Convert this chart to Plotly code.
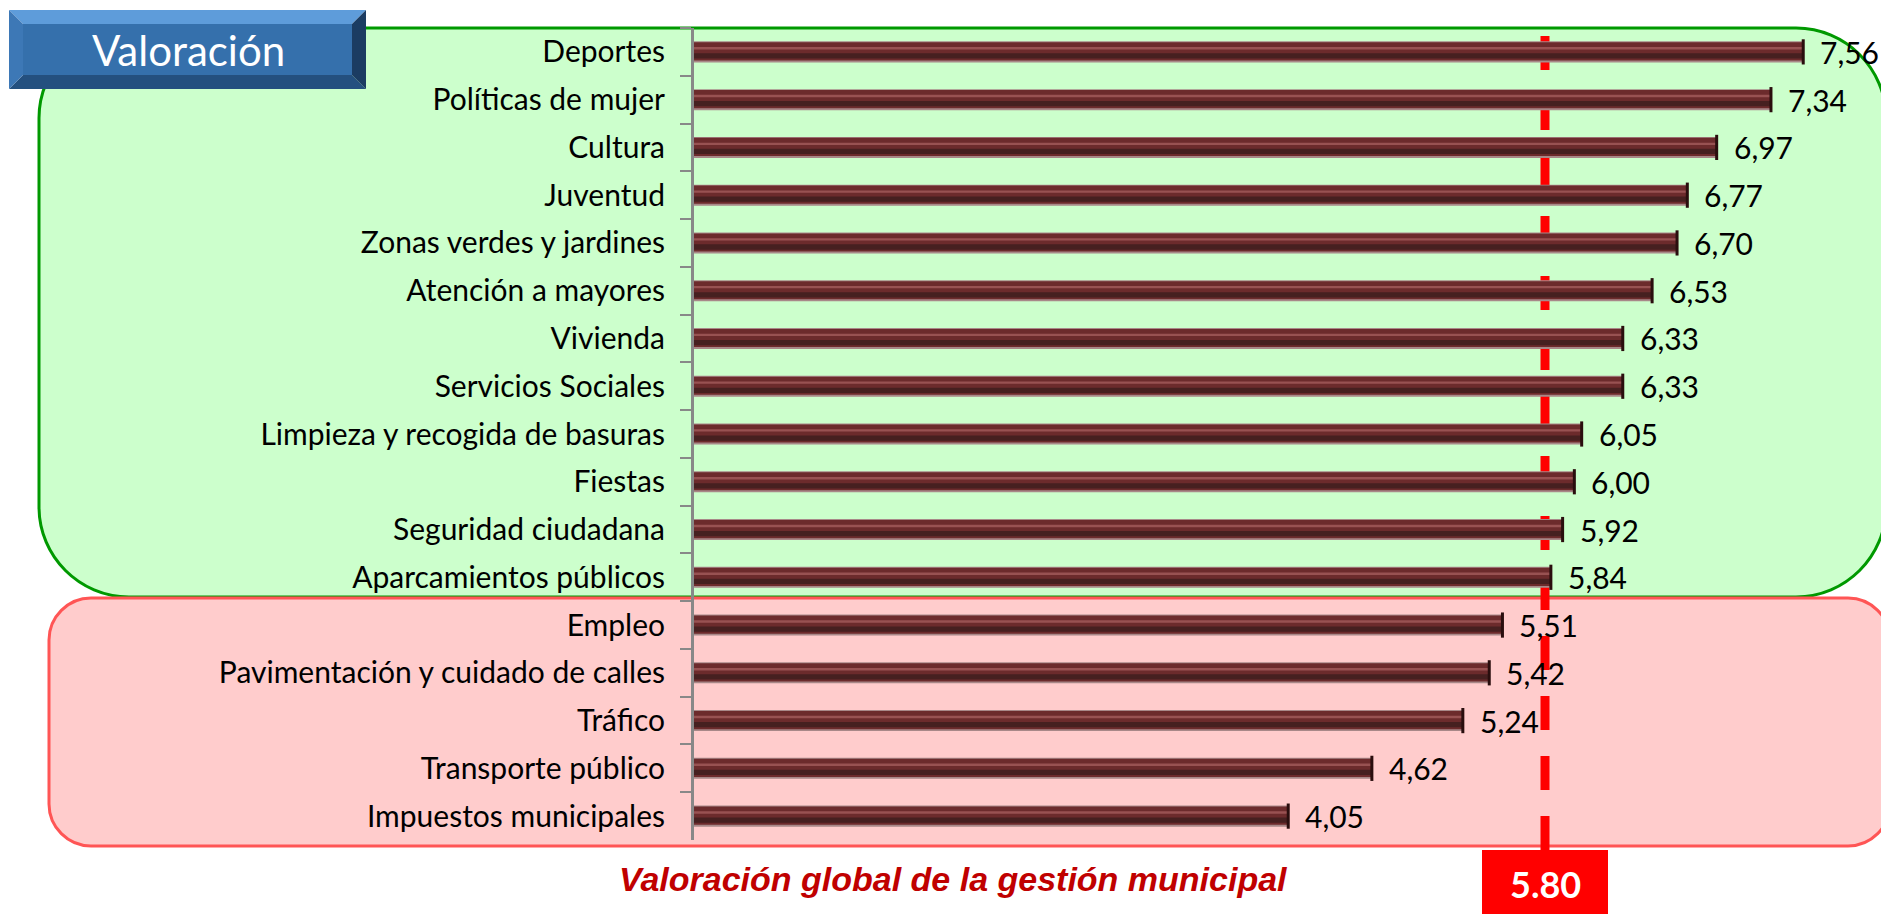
import plotly.graph_objects as go

categories = [
    "Deportes", "Políticas de mujer", "Cultura", "Juventud",
    "Zonas verdes y jardines", "Atención a mayores", "Vivienda",
    "Servicios Sociales", "Limpieza y recogida de basuras", "Fiestas",
    "Seguridad ciudadana", "Aparcamientos públicos", "Empleo",
    "Pavimentación y cuidado de calles", "Tráfico", "Transporte público",
    "Impuestos municipales",
]
values = [7.56, 7.34, 6.97, 6.77, 6.70, 6.53, 6.33, 6.33, 6.05, 6.00,
          5.92, 5.84, 5.51, 5.42, 5.24, 4.62, 4.05]
value_labels = [f"{v:.2f}".replace(".", ",") for v in values]
global_value = 5.80
global_label = "5.80"
title_text = "Valoración"
footer_text = "Valoración global de la gestión municipal"

W, H = 1881, 914
ML, MR, MT, MB = 694, 0, 28, 74
PW = W - ML - MR
PH = H - MT - MB
XMAX = 8.09


def px(x):
    return (x - ML) / PW


def py(y):
    return (H - MB - y) / PH


def rounded_rect(x0, y0, x1, y1, r):
    k = 0.45
    pts = [
        f"M{px(x0 + r)},{py(y0)}",
        f"L{px(x1 - r)},{py(y0)}",
        f"C{px(x1 - r * k)},{py(y0)} {px(x1)},{py(y0 + r * k)} {px(x1)},{py(y0 + r)}",
        f"L{px(x1)},{py(y1 - r)}",
        f"C{px(x1)},{py(y1 - r * k)} {px(x1 - r * k)},{py(y1)} {px(x1 - r)},{py(y1)}",
        f"L{px(x0 + r)},{py(y1)}",
        f"C{px(x0 + r * k)},{py(y1)} {px(x0)},{py(y1 - r * k)} {px(x0)},{py(y1 - r)}",
        f"L{px(x0)},{py(y0 + r)}",
        f"C{px(x0)},{py(y0 + r * k)} {px(x0 + r * k)},{py(y0)} {px(x0 + r)},{py(y0)}",
        "Z",
    ]
    return " ".join(pts)


def poly(points):
    return "M" + " L".join(f"{px(a)},{py(b)}" for a, b in points) + " Z"


fig = go.Figure()

# layered bars for a bevelled look
layers = [
    (-0.22, 0.44, "#A88888"),
    (-0.20, 0.38, "#6C2B2C"),
    (-0.10, 0.05, "#985252"),
    (0.03, 0.11, "#462020"),
]
for off, wid, col in layers:
    fig.add_trace(go.Bar(
        y=categories, x=values, orientation="h",
        offset=off, width=wid,
        marker=dict(color=col, line=dict(width=0)),
        hoverinfo="skip", showlegend=False,
    ))

# dark end caps
fig.add_trace(go.Scatter(
    y=categories, x=values, mode="markers",
    marker=dict(symbol="line-ns", size=18, line=dict(color="#2A0E0E", width=3)),
    hoverinfo="skip", showlegend=False, cliponaxis=False,
))

annotations = []
for c, v, t in zip(categories, values, value_labels):
    annotations.append(dict(
        x=v, y=c, xref="x", yref="y", text=t, showarrow=False,
        xanchor="left", yanchor="middle", xshift=15,
        font=dict(family="Lato", size=30, color="#000000"),
    ))

# title box text
annotations.append(dict(
    x=px(188), y=py(50), xref="paper", yref="paper", text=title_text,
    showarrow=False, xanchor="center", yanchor="middle",
    font=dict(family="Lato", size=42, color="#FFFFFF"),
))
# footer
annotations.append(dict(
    x=px(953), y=py(879), xref="paper", yref="paper",
    text=f"<b><i>{footer_text}</i></b>", showarrow=False,
    xanchor="center", yanchor="middle",
    font=dict(family="Liberation Sans", size=34, color="#C00000"),
))
# global value box text
annotations.append(dict(
    x=global_value, y=py(884), xref="x", yref="paper",
    text=f"<b>{global_label}</b>", showarrow=False,
    xanchor="center", yanchor="middle",
    font=dict(family="Lato", size=36, color="#FFFFFF"),
))

shapes = [
    dict(type="path", xref="paper", yref="paper", layer="below",
         path=rounded_rect(39, 28, 1886, 597, 90),
         fillcolor="#CCFFCC", line=dict(color="#009900", width=3)),
    dict(type="path", xref="paper", yref="paper", layer="below",
         path=rounded_rect(49, 598, 1890, 846, 42),
         fillcolor="#FFCCCC", line=dict(color="#FF5555", width=3)),
    dict(type="line", xref="x", yref="paper", layer="below",
         x0=global_value, x1=global_value, y0=py(850), y1=py(29),
         line=dict(color="#FF0000", width=9, dash="34px,26px")),
]

# global value box
box_half = 63
scale = PW / XMAX
shapes.append(dict(type="rect", xref="paper", yref="paper", layer="above",
                   x0=px(ML + global_value * scale - box_half),
                   x1=px(ML + global_value * scale + box_half),
                   y0=py(850), y1=py(916),
                   fillcolor="#FF0000", line=dict(width=0)))

# bevelled title box
bx0, by0, bx1, by1, b = 9, 10, 366, 89, 14
shapes += [
    dict(type="path", xref="paper", yref="paper", layer="above",
         path=poly([(bx0, by0), (bx1, by0), (bx1 - b, by0 + b), (bx0 + b, by0 + b)]),
         fillcolor="#5E9CDA", line=dict(width=0)),
    dict(type="path", xref="paper", yref="paper", layer="above",
         path=poly([(bx0, by1), (bx1, by1), (bx1 - b, by1 - b), (bx0 + b, by1 - b)]),
         fillcolor="#24507F", line=dict(width=0)),
    dict(type="path", xref="paper", yref="paper", layer="above",
         path=poly([(bx0, by0), (bx0 + b, by0 + b), (bx0 + b, by1 - b), (bx0, by1)]),
         fillcolor="#3D78B6", line=dict(width=0)),
    dict(type="path", xref="paper", yref="paper", layer="above",
         path=poly([(bx1, by0), (bx1 - b, by0 + b), (bx1 - b, by1 - b), (bx1, by1)]),
         fillcolor="#1B3C62", line=dict(width=0)),
    dict(type="path", xref="paper", yref="paper", layer="above",
         path=poly([(bx0 + b, by0 + b), (bx1 - b, by0 + b), (bx1 - b, by1 - b), (bx0 + b, by1 - b)]),
         fillcolor="#3570AC", line=dict(width=0)),
]

fig.update_layout(
    template="none",
    width=W, height=H,
    autosize=False,
    margin=dict(l=ML, r=MR, t=MT, b=MB, pad=0, autoexpand=False),
    barmode="overlay",
    paper_bgcolor="#FFFFFF",
    plot_bgcolor="rgba(0,0,0,0)",
    showlegend=False,
    shapes=shapes,
    annotations=annotations,
    xaxis=dict(range=[0, XMAX], visible=False, showgrid=False, zeroline=False,
               automargin=False),
    yaxis=dict(
        type="category", categoryorder="array", categoryarray=categories,
        range=[len(categories) - 0.5, -0.5], autorange=False, automargin=False,
        showline=True, linecolor="#888888", linewidth=3,
        ticks="outside", tickson="boundaries", ticklen=11, tickwidth=2,
        tickcolor="#888888", ticklabelstandoff=20,
        tickfont=dict(family="Lato", size=30, color="#000000"),
        showgrid=False, zeroline=False,
    ),
)

fig.write_html(
    "out.html",
    config={"displayModeBar": False},
    post_script="document.body.style.margin='0';document.body.style.overflow='hidden';",
)
